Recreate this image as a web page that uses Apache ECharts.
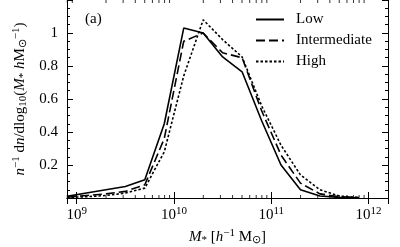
<!DOCTYPE html>
<html>
<head>
<meta charset="utf-8">
<script src="https://cdn.jsdelivr.net/npm/echarts@6/dist/echarts.min.js"></script>
<style>html,body{margin:0;padding:0;background:#fff}#c{width:400px;height:247px}</style>
</head>
<body>
<div id="c"></div>
<script>
// log10 of stellar mass at each bin
const logMass = [8.9, 9.1, 9.3, 9.5, 9.7, 9.9, 10.1, 10.3, 10.5, 10.7, 10.9, 11.1, 11.3, 11.5, 11.7, 11.9];
const lowValues = [0.01, 0.03, 0.05, 0.07, 0.11, 0.45, 1.03, 1.00, 0.855, 0.765, 0.47, 0.20, 0.05, 0.012, 0.004, 0.001];
const intermediateValues = [0.005, 0.015, 0.025, 0.04, 0.08, 0.36, 0.95, 1.00, 0.88, 0.85, 0.53, 0.26, 0.09, 0.025, 0.008, 0.002];
const highValues = [0.003, 0.008, 0.015, 0.03, 0.06, 0.28, 0.74, 1.08, 0.96, 0.855, 0.56, 0.32, 0.14, 0.05, 0.012, 0.003];
const seriesNames = ['Low', 'Intermediate', 'High'];
const xMinorTicks = [8e8, 9e8, 2e9, 3e9, 4e9, 5e9, 6e9, 7e9, 8e9, 9e9, 2e10, 3e10, 4e10, 5e10, 6e10, 7e10, 8e10, 9e10, 2e11, 3e11, 4e11, 5e11, 6e11, 7e11, 8e11, 9e11];
const yTickLabels = [0.2, 0.4, 0.6, 0.8, 1];

const FONT = 'Liberation Serif';
const xMin = Math.pow(10, 8.9), xMax = Math.pow(10, 12.2);
const yMax = 1.2;

function pts(vals) { return logMass.map((l, i) => [Math.pow(10, l), vals[i]]); }

const supRich = {
  b: { fontFamily: FONT, fontSize: 15, color: '#000' },
  s: { fontFamily: FONT, fontSize: 11, color: '#000', padding: [0, 0, 8, 0] }
};

function xLabel(v) {
  const e = Math.log10(v);
  if (Math.abs(e - Math.round(e)) > 1e-6) return '';
  return '{b|10}{s|' + Math.round(e) + '}';
}

const nameRich = {
  i: { fontFamily: FONT, fontSize: 15, fontStyle: 'italic', color: '#000' },
  sb: { fontFamily: FONT, fontSize: 11, color: '#000', padding: [6, 0, 0, 0] },
  sp: { fontFamily: FONT, fontSize: 11, color: '#000', padding: [0, 0, 8, 0] }
};

const chart = echarts.init(document.getElementById('c'), null, { renderer: 'canvas' });
const baseX = {
  type: 'log', logBase: 10, min: xMin, max: xMax,
  axisLine: { show: true, lineStyle: { color: '#000', width: 1 } },
  axisTick: { show: true, inside: true, length: 6, lineStyle: { color: '#000' } },
  minorTick: { show: false },
  splitLine: { show: false }
};
const baseY = {
  type: 'value', min: 0, max: yMax, interval: 0.2,
  axisLine: { show: true, lineStyle: { color: '#000', width: 1 } },
  axisTick: { show: true, inside: true, length: 6, lineStyle: { color: '#000' } },
  minorTick: { show: true, splitNumber: 4, length: 3, lineStyle: { color: '#000' } },
  splitLine: { show: false }
};

const tickSeries = (yv, off) => ({
  type: 'scatter', silent: true, clip: false, animation: false,
  symbol: 'rect', symbolSize: [1, 3], symbolOffset: [0, off],
  itemStyle: { color: '#000' },
  data: xMinorTicks.map(v => [v, yv]), z: 5
});

chart.setOption({
  animation: false,
  grid: { left: 67, right: 12, top: 0, bottom: 49, outerBoundsMode: 'none', containLabel: false },
  xAxis: [
    Object.assign({}, baseX, {
      position: 'bottom',
      axisLabel: { formatter: xLabel, rich: supRich, margin: 8, showMinLabel: false, showMaxLabel: false },
      name: '{i|M}{sb|*} [{i|h}{sp|−1} M{sb|⊙}]',
      nameLocation: 'middle', nameGap: 28,
      nameTextStyle: { fontFamily: FONT, fontSize: 15, color: '#000', rich: nameRich }
    }),
    Object.assign({}, baseX, { position: 'top', axisLabel: { show: false } })
  ],
  yAxis: [
    Object.assign({}, baseY, {
      position: 'left',
      axisLabel: {
        fontFamily: FONT, fontSize: 15, color: '#000', margin: 9,
        formatter: v => (yTickLabels.some(t => Math.abs(t - v) < 1e-6) ? String(+v.toFixed(1)) : '')
      },
      name: '{i|n}{sp|−1} d{i|n}/dlog{sb|10}({i|M}{sb|*} {i|h}M{sb|⊙}{sp|−1})',
      nameLocation: 'middle', nameGap: 37, nameRotate: 90,
      nameTextStyle: { fontFamily: FONT, fontSize: 15, color: '#000', rich: nameRich }
    }),
    Object.assign({}, baseY, { position: 'right', axisLabel: { show: false } })
  ],
  legend: {
    data: seriesNames, orient: 'vertical', left: 255, top: 12, padding: 0,
    itemWidth: 28, itemHeight: 14, itemGap: 6,
    itemStyle: { opacity: 0 },
    textStyle: { fontFamily: FONT, fontSize: 15, color: '#000', padding: [0, 0, 0, 7] }
  },
  graphic: [{
    type: 'text', left: 85, top: 12,
    style: { text: '(a)', fontFamily: FONT, fontSize: 15, fill: '#000' }
  }],
  series: [
    { name: 'Low', type: 'line', data: pts(lowValues), symbol: 'none',
      lineStyle: { color: '#000', width: 1.6, type: 'solid' }, itemStyle: { color: '#000' } },
    { name: 'Intermediate', type: 'line', data: pts(intermediateValues), symbol: 'none',
      lineStyle: { color: '#000', width: 1.6, type: [9, 4] }, itemStyle: { color: '#000' } },
    { name: 'High', type: 'line', data: pts(highValues), symbol: 'none',
      lineStyle: { color: '#000', width: 1.6, type: [2.5, 2] }, itemStyle: { color: '#000' } },
    tickSeries(0, -1.5),
    tickSeries(yMax, 1.5)
  ]
});
</script>
</body>
</html>
